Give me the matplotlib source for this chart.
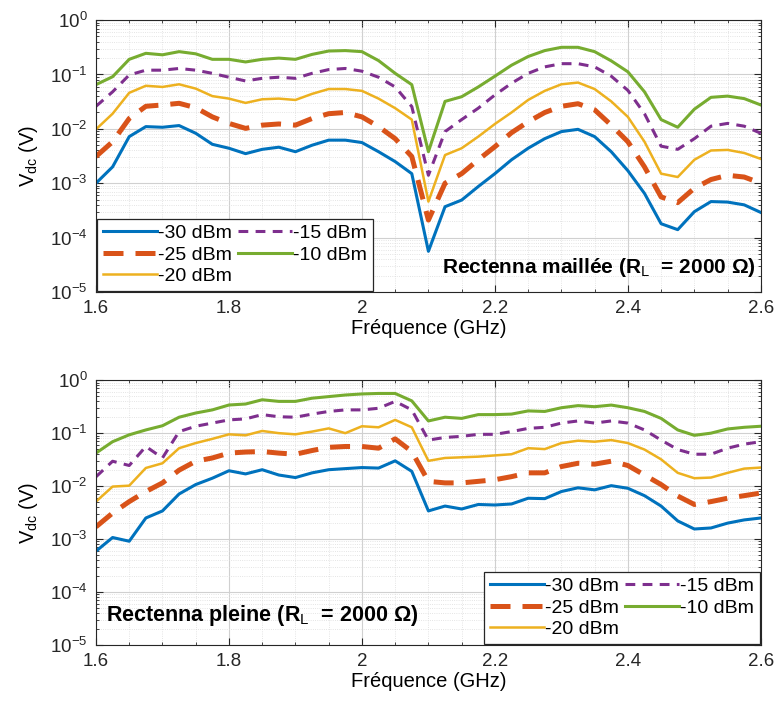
import matplotlib
matplotlib.use("Agg")
import matplotlib.pyplot as plt
from matplotlib.ticker import LogLocator, MultipleLocator, FixedLocator, NullFormatter

plt.rcParams["font.family"] = ["Liberation Sans", "DejaVu Sans"]
plt.rcParams["mathtext.fontset"] = "custom"
plt.rcParams["mathtext.rm"] = "Liberation Sans"
plt.rcParams["mathtext.it"] = "Liberation Sans:italic"
plt.rcParams["mathtext.bf"] = "Liberation Sans:bold"

# ─── Data (GHz, V) ────────────────────────────────────────────────────────────
freq = [1.6, 1.625, 1.65, 1.675, 1.7, 1.725, 1.75, 1.775, 1.8, 1.825,
        1.85, 1.875, 1.9, 1.925, 1.95, 1.975, 2.0, 2.025, 2.05, 2.075,
        2.1, 2.125, 2.15, 2.175, 2.2, 2.225, 2.25, 2.275, 2.3, 2.325,
        2.35, 2.375, 2.4, 2.425, 2.45, 2.475, 2.5, 2.525, 2.55, 2.575, 2.6]

labels = ["-30 dBm", "-25 dBm", "-20 dBm", "-15 dBm", "-10 dBm"]

# Rectenna maillée
mesh_m30 = [0.0010, 0.0020, 0.0072, 0.011, 0.0107, 0.0115, 0.0083, 0.0052, 0.0044, 0.0035,
            0.0042, 0.0046, 0.0038, 0.0050, 0.0062, 0.0062, 0.0056, 0.0038, 0.0025, 0.0015,
            5.6e-5, 3.7e-4, 4.9e-4, 8.7e-4, 0.0015, 0.0027, 0.0044, 0.0066, 0.0089, 0.0098,
            0.0072, 0.0038, 0.0017, 6.5e-4, 1.8e-4, 1.4e-4, 3.0e-4, 4.6e-4, 4.5e-4, 4.0e-4, 2.9e-4]
mesh_m25 = [0.0031, 0.0058, 0.0155, 0.026, 0.0275, 0.0295, 0.0245, 0.0166, 0.0126, 0.0102,
            0.0117, 0.0123, 0.0117, 0.0155, 0.019, 0.020, 0.0166, 0.011, 0.0066, 0.0031,
            2.1e-4, 0.0010, 0.0015, 0.0027, 0.0047, 0.0085, 0.0135, 0.020, 0.026, 0.029,
            0.0224, 0.0117, 0.0058, 0.0020, 5.6e-4, 4.4e-4, 8.1e-4, 0.00117, 0.0014, 0.0013, 0.0010]
mesh_m20 = [0.0098, 0.019, 0.046, 0.062, 0.059, 0.066, 0.055, 0.040, 0.036, 0.030,
            0.035, 0.036, 0.034, 0.044, 0.054, 0.054, 0.050, 0.036, 0.024, 0.0148,
            4.6e-4, 0.0033, 0.0044, 0.0072, 0.0123, 0.020, 0.034, 0.050, 0.066, 0.071,
            0.054, 0.032, 0.0166, 0.0058, 0.0015, 0.0013, 0.0027, 0.0040, 0.0041, 0.0036, 0.0028]
mesh_m15 = [0.026, 0.048, 0.098, 0.12, 0.12, 0.129, 0.12, 0.105, 0.089, 0.076,
            0.085, 0.089, 0.085, 0.105, 0.123, 0.129, 0.115, 0.089, 0.059, 0.0257,
            0.0014, 0.0089, 0.0148, 0.024, 0.042, 0.069, 0.105, 0.138, 0.158, 0.158,
            0.138, 0.093, 0.051, 0.019, 0.0048, 0.0042, 0.0066, 0.0112, 0.0126, 0.0112, 0.0083]
mesh_m10 = [0.065, 0.091, 0.19, 0.245, 0.23, 0.263, 0.24, 0.19, 0.19, 0.17,
            0.19, 0.20, 0.19, 0.234, 0.27, 0.275, 0.263, 0.18, 0.105, 0.065,
            0.0038, 0.032, 0.039, 0.059, 0.093, 0.148, 0.214, 0.275, 0.316, 0.316,
            0.263, 0.178, 0.112, 0.048, 0.0148, 0.0107, 0.023, 0.038, 0.040, 0.036, 0.0275]

# Rectenna pleine
full_m30 = [5.9e-4, 0.00107, 9.1e-4, 0.0025, 0.0034, 0.0071, 0.0107, 0.0141, 0.0195, 0.017,
            0.0204, 0.0162, 0.0145, 0.0178, 0.0204, 0.0214, 0.0224, 0.0219, 0.030, 0.019,
            0.0034, 0.0042, 0.0037, 0.0045, 0.0044, 0.0046, 0.0059, 0.0058, 0.0079, 0.0093,
            0.0085, 0.0102, 0.0091, 0.0066, 0.0042, 0.0022, 0.00155, 0.00162, 0.0020, 0.0023, 0.0025]
full_m25 = [0.0017, 0.0031, 0.0051, 0.0079, 0.0115, 0.020, 0.0295, 0.034, 0.042, 0.044,
            0.045, 0.042, 0.040, 0.047, 0.054, 0.056, 0.056, 0.052, 0.078, 0.045,
            0.0123, 0.0115, 0.0115, 0.0123, 0.0132, 0.0151, 0.0178, 0.0178, 0.0234, 0.027,
            0.026, 0.0295, 0.0245, 0.0162, 0.0107, 0.0065, 0.0045, 0.0051, 0.0059, 0.0066, 0.0074]
full_m20 = [0.0051, 0.0098, 0.0102, 0.022, 0.027, 0.052, 0.065, 0.078, 0.095, 0.091,
            0.11, 0.10, 0.095, 0.107, 0.123, 0.10, 0.135, 0.129, 0.178, 0.129,
            0.030, 0.034, 0.035, 0.036, 0.038, 0.040, 0.052, 0.050, 0.065, 0.072,
            0.069, 0.074, 0.065, 0.049, 0.032, 0.0178, 0.0141, 0.0145, 0.0178, 0.0214, 0.0224]
full_m15 = [0.015, 0.0295, 0.0245, 0.056, 0.034, 0.107, 0.135, 0.155, 0.178, 0.186,
            0.224, 0.204, 0.20, 0.229, 0.257, 0.275, 0.275, 0.295, 0.398, 0.275,
            0.074, 0.083, 0.087, 0.095, 0.095, 0.107, 0.123, 0.129, 0.155, 0.17,
            0.155, 0.17, 0.155, 0.115, 0.074, 0.049, 0.040, 0.040, 0.052, 0.062, 0.069]
full_m10 = [0.042, 0.069, 0.093, 0.115, 0.138, 0.20, 0.24, 0.275, 0.34, 0.355,
            0.427, 0.398, 0.398, 0.457, 0.49, 0.525, 0.55, 0.562, 0.562, 0.407,
            0.17, 0.20, 0.19, 0.224, 0.224, 0.229, 0.263, 0.257, 0.302, 0.331,
            0.316, 0.339, 0.302, 0.257, 0.19, 0.115, 0.091, 0.10, 0.12, 0.129, 0.135]

# ─── Styles (MATLAB default colour order) ─────────────────────────────────────
STYLES = [
    {"color": "#0072BD", "lw": 2.2, "ls": "-"},
    {"color": "#D95319", "lw": 3.6, "ls": (0, (4.0, 2.4))},
    {"color": "#EDB120", "lw": 1.8, "ls": "-"},
    {"color": "#7E2F8E", "lw": 2.2, "ls": (0, (3.2, 2.4))},
    {"color": "#77AC30", "lw": 2.2, "ls": "-"},
]

TICK_FS = 13.5
LABEL_FS = 14.5

fig = plt.figure(figsize=(7.74, 7.08), dpi=100)
ax1 = fig.add_axes([0.124, 0.5876, 0.859, 0.384])
ax2 = fig.add_axes([0.124, 0.089, 0.859, 0.374])


def style_axis(ax):
    ax.set_yscale("log")
    ax.set_xlim(1.6, 2.6)
    ax.set_ylim(1e-5, 1)
    ax.xaxis.set_major_locator(FixedLocator([1.6, 1.8, 2.0, 2.2, 2.4, 2.6]))
    ax.set_xticklabels(["1.6", "1.8", "2", "2.2", "2.4", "2.6"])
    ax.xaxis.set_minor_locator(MultipleLocator(0.05))
    ax.yaxis.set_major_locator(LogLocator(base=10, numticks=10))
    ax.yaxis.set_minor_locator(LogLocator(base=10, subs=range(2, 10), numticks=10))
    ax.yaxis.set_minor_formatter(NullFormatter())
    ax.grid(True, which="major", color="#d0d0d0", lw=0.8)
    ax.grid(True, which="minor", color="#dcdcdc", lw=0.6, ls=":")
    ax.tick_params(which="both", direction="in", top=True, right=True,
                   labelsize=TICK_FS, colors="#262626")
    ax.tick_params(axis="x", which="major", pad=6)
    ax.tick_params(axis="y", which="major", pad=6)
    ax.tick_params(which="major", length=5)
    ax.tick_params(which="minor", length=2.5)
    for s in ax.spines.values():
        s.set_color("#262626")
        s.set_linewidth(0.8)
    ax.set_axisbelow(True)
    ax.set_xlabel("Fréquence (GHz)", fontsize=LABEL_FS, labelpad=1)
    ax.set_ylabel("V$_{\\rm dc}$ (V)", fontsize=LABEL_FS, labelpad=7)


mesh = [mesh_m30, mesh_m25, mesh_m20, mesh_m15, mesh_m10]
full = [full_m30, full_m25, full_m20, full_m15, full_m10]

for ax, series in ((ax1, mesh), (ax2, full)):
    for vals, lab, st in zip(series, labels, STYLES):
        ax.plot(freq, vals, color=st["color"], lw=st["lw"], ls=st["ls"], label=lab)
    style_axis(ax)

leg_kw = dict(ncol=2, fontsize=14, frameon=True, fancybox=False, edgecolor="#262626",
              handlelength=2.8, columnspacing=0.3, handletextpad=0.05, labelspacing=0.2,
              borderpad=0.3, borderaxespad=0.05, framealpha=1)
l1 = ax1.legend(loc="lower left", **leg_kw)
l2 = ax2.legend(loc="lower right", **leg_kw)
for l in (l1, l2):
    l.get_frame().set_linewidth(0.9)

ax1.text(2.592, 10 ** -4.55, "Rectenna maillée (R$_{\\rm L}$  = 2000 Ω)", fontsize=15,
         fontweight="bold", ha="right", va="center")
ax2.text(1.615, 10 ** -4.45, "Rectenna pleine (R$_{\\rm L}$  = 2000 Ω)", fontsize=15.5,
         fontweight="bold", ha="left", va="center")

fig.savefig("out.png", dpi=100)
